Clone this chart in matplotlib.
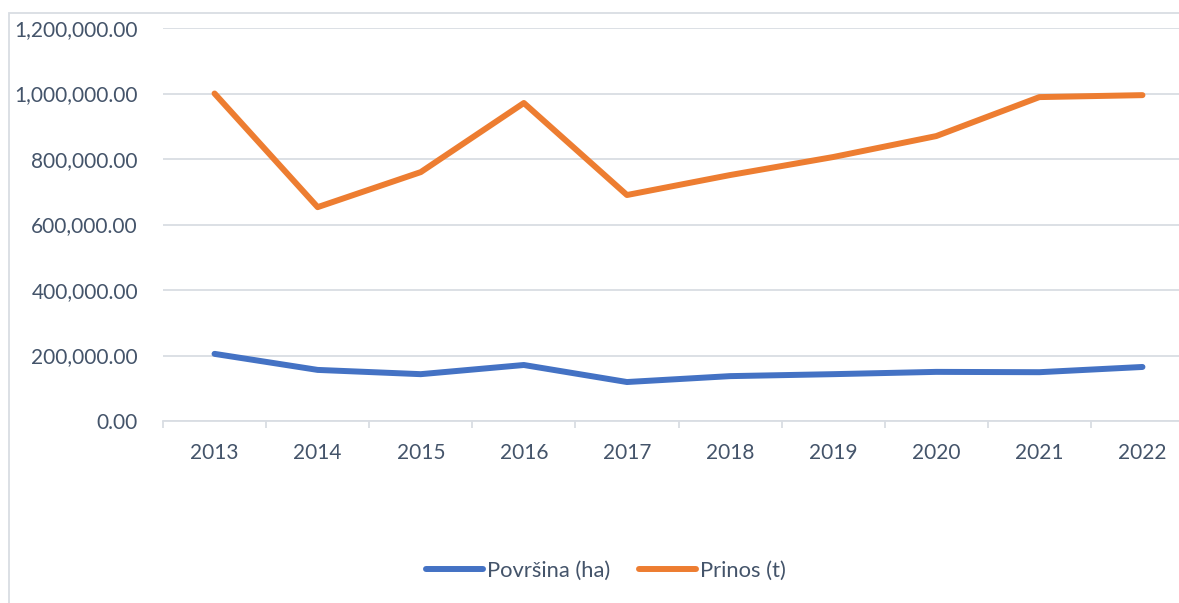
import matplotlib.pyplot as plt
from matplotlib.patches import Rectangle
from matplotlib.ticker import FuncFormatter, FixedLocator

years = ['2013', '2014', '2015', '2016', '2017', '2018', '2019', '2020', '2021', '2022']
povrsina = [205000, 156000, 143000, 171000, 119000, 137000, 143000, 150000, 149000, 165000]
prinos = [1000000, 653000, 760000, 971000, 690000, 751000, 806000, 870000, 989000, 995000]

text_col = '#44546A'
grid_col = '#D9DDE3'

plt.rcParams['font.family'] = ['Lato', 'DejaVu Sans']

W, H = 1179, 603
fig = plt.figure(figsize=(W / 100, H / 100), dpi=100)
ax = fig.add_axes([163 / W, (H - 421) / H, (1194 - 163) / W, (421 - 28) / H])

x = list(range(len(years)))
ax.plot(x, povrsina, color='#4472C4', lw=4.3, solid_capstyle='round', solid_joinstyle='round', label='Površina (ha)')
ax.plot(x, prinos, color='#ED7D31', lw=4.3, solid_capstyle='round', solid_joinstyle='round', label='Prinos (t)')

ax.set_xlim(-0.5, len(years) - 0.5)
ax.set_ylim(0, 1200000)
ax.set_yticks(range(0, 1200001, 200000))
ax.yaxis.set_major_formatter(FuncFormatter(lambda v, p: f'{v:,.2f}'))
ax.grid(axis='y', color=grid_col, lw=1.3)
ax.set_axisbelow(True)

ax.set_xticks(x)
ax.set_xticklabels(years)
ax.xaxis.set_minor_locator(FixedLocator([i - 0.5 for i in range(len(years) + 1)]))
ax.tick_params(axis='x', which='major', length=0, pad=16, labelsize=15, labelcolor=text_col)
ax.tick_params(axis='x', which='minor', length=5, width=1.3, color=grid_col)
ax.tick_params(axis='y', length=0, pad=18, labelsize=15, labelcolor=text_col)

for s in ['top', 'right', 'left']:
    ax.spines[s].set_visible(False)
ax.spines['bottom'].set_color(grid_col)
ax.spines['bottom'].set_linewidth(1.3)

leg = fig.legend(loc='center', bbox_to_anchor=(606 / W, (H - 571) / H), ncol=2, frameon=False,
                 fontsize=15.8, handlelength=2.6, handletextpad=0.2, columnspacing=1.3)
for t in leg.get_texts():
    t.set_color(text_col)

# chart border (cropped on right and bottom)
fig.add_artist(Rectangle((8.5 / W, -0.1), 1.2, (H - 13) / H + 0.1, transform=fig.transFigure,
                         fill=False, edgecolor=grid_col, lw=1.3))

fig.savefig('out.png', dpi=100, facecolor='white')
